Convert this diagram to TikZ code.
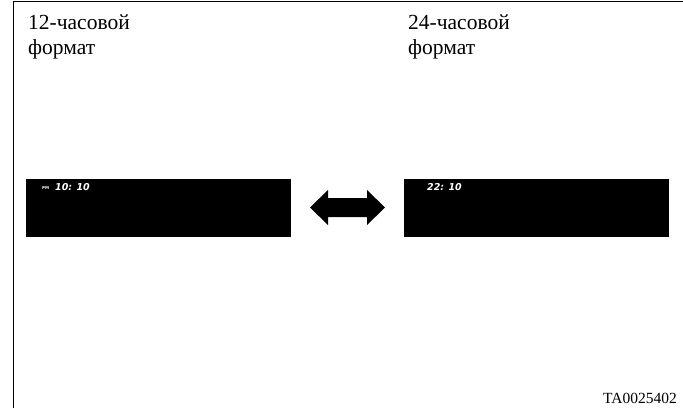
\documentclass[tikz,border=0pt]{standalone}
\usepackage{fontspec}
\setmainfont{Liberation Serif}
\newfontfamily\lcdfont{DejaVu Sans}
\begin{document}
\begin{tikzpicture}[x=1pt,y=-1pt,
  frameline/.style={line width=1.6pt, black},
  lcd/.style={fill=black, draw=none, minimum width=265pt, minimum height=58pt, inner sep=0pt, anchor=north west},
  lcdtext/.style={text=white, font=\lcdfont\bfseries\itshape\fontsize{9.5}{9.5}\selectfont, inner sep=0pt, anchor=base west},
  pmtext/.style={text=white, font=\lcdfont\bfseries\fontsize{4}{4}\selectfont, inner sep=0pt, anchor=base west},
  heading/.style={font=\fontsize{21.5}{24.5}\selectfont, align=left, inner sep=0pt, anchor=north west},
  code/.style={font=\fontsize{15.5}{17}\selectfont, inner sep=0pt, anchor=base east}
]
\useasboundingbox (0,0) rectangle (683,408);
\fill[white] (0,0) rectangle (683,408);
% frame
\coordinate (fbl) at (13.5,408);
\coordinate (ftl) at (13.5,1.5);
\coordinate (ftr) at (683,1.5);
\draw[frameline] (fbl) -- (ftl) -- (ftr);
% headings
\node[heading] (h12) at (28,15) {12-часовой\\формат};
\node[heading] (h24) at (408,15) {24-часовой\\формат};
% displays
\node[lcd] (d12) at (26,179) {};
\node[lcd] (d24) at (404,179) {};
\node[pmtext] (pm) at (42,189.5) {PM};
\node[lcdtext] (t12) at (55,190) {10: 10};
\node[lcdtext] (t24) at (427,190) {22: 10};
% double arrow
\fill[black] (310,207.5) -- (328,190) -- (328,198) -- (367,198) -- (367,190) -- (385,207.5)
  -- (367,225) -- (367,217) -- (328,217) -- (328,225) -- cycle;
% code
\node[code] (ta) at (677,403) {TA0025402};
\end{tikzpicture}
\end{document}
